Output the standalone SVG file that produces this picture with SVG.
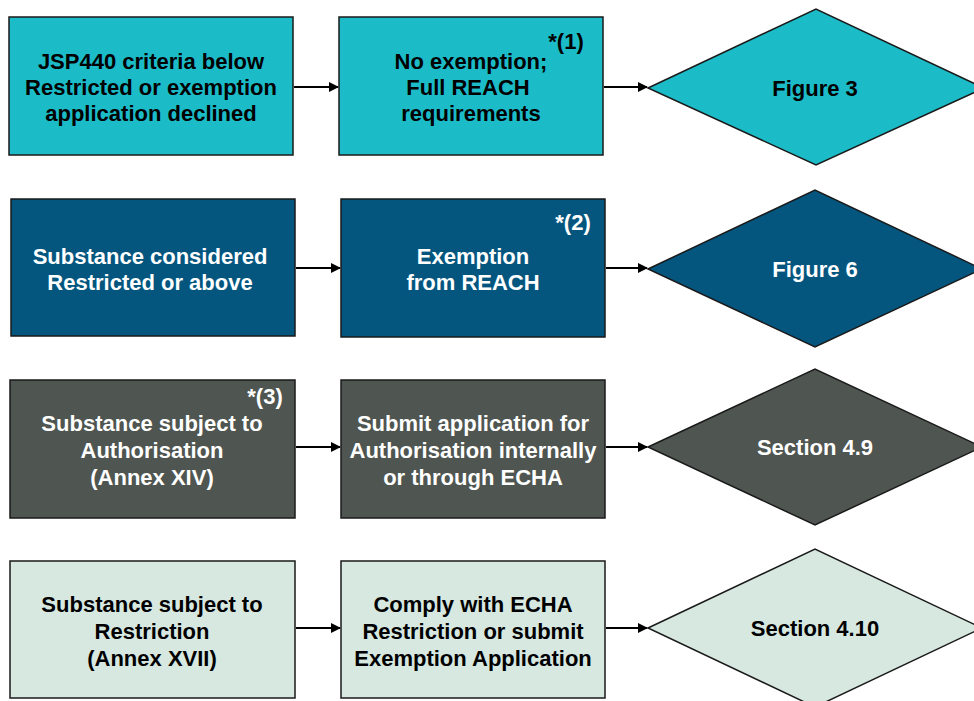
<svg xmlns="http://www.w3.org/2000/svg" width="974" height="701" viewBox="0 0 974 701">
<defs>
<marker id="ah" markerWidth="10" markerHeight="10" refX="9" refY="5" orient="auto" markerUnits="userSpaceOnUse"><path d="M0,0 L10,5 L0,10 z" fill="#000"/></marker>
<style>
.n{stroke:#1a1a1a;stroke-width:1.5}
.r1{fill:#1CBBC8}.r2{fill:#04567F}.r3{fill:#4F5550}.r4{fill:#D6E8E0}
text{font-family:"Liberation Sans",Arial,sans-serif;font-weight:bold;font-size:22px;text-anchor:middle}
.dk{fill:#000}.lt{fill:#fff}
.c{stroke:#000;stroke-width:2;fill:none;marker-end:url(#ah)}
</style>
</defs>
<rect width="974" height="701" fill="#fff"/>
<g id="connectors">
<line class="c" x1="294" y1="87" x2="338" y2="87"/>
<line class="c" x1="604" y1="87" x2="647" y2="87"/>
<line class="c" x1="296" y1="268" x2="340" y2="268"/>
<line class="c" x1="606" y1="268" x2="647" y2="268"/>
<line class="c" x1="296" y1="447" x2="340" y2="447"/>
<line class="c" x1="606" y1="447" x2="647" y2="447"/>
<line class="c" x1="296" y1="628" x2="340" y2="628"/>
<line class="c" x1="606" y1="628" x2="647" y2="628"/>
</g>
<g id="n1a"><rect class="n r1" x="9" y="17" width="284" height="138"/>
<text class="dk" x="151" y="69">JSP440 criteria below</text><text class="dk" x="151" y="95">Restricted or exemption</text><text class="dk" x="151" y="121">application declined</text></g>
<g id="n1b"><rect class="n r1" x="339" y="17" width="264" height="138"/>
<text class="dk" x="471" y="69">No exemption;</text><text class="dk" x="468" y="95">Full REACH</text><text class="dk" x="471" y="121">requirements</text>
<text class="dk" x="566" y="49">*(1)</text></g>
<g id="n1c"><polygon class="n r1" points="648,88 816,9 984,88 816,165"/>
<text class="dk" x="815" y="96">Figure 3</text></g>

<g id="n2a"><rect class="n r2" x="11" y="199" width="284" height="137"/>
<text class="lt" x="150" y="264">Substance considered</text><text class="lt" x="150" y="290">Restricted or above</text></g>
<g id="n2b"><rect class="n r2" x="341" y="199" width="264" height="138"/>
<text class="lt" x="473" y="264">Exemption</text><text class="lt" x="473" y="290">from REACH</text>
<text class="lt" x="573" y="230">*(2)</text></g>
<g id="n2d"><polygon class="n r2" points="648,269 815,190 982,269 815,347"/>
<text class="lt" x="815" y="277">Figure 6</text></g>

<g id="n3a"><rect class="n r3" x="10" y="380" width="285" height="138"/>
<text class="lt" x="152" y="431">Substance subject to</text><text class="lt" x="152" y="458">Authorisation</text><text class="lt" x="152" y="485">(Annex XIV)</text>
<text class="lt" x="265" y="404">*(3)</text></g>
<g id="n3b"><rect class="n r3" x="341" y="380" width="264" height="138"/>
<text class="lt" x="473" y="431">Submit application for</text><text class="lt" x="473" y="458">Authorisation internally</text><text class="lt" x="473" y="485">or through ECHA</text></g>
<g id="n3c"><polygon class="n r3" points="648,447 815,369 982,447 815,525"/>
<text class="lt" x="815" y="455">Section 4.9</text></g>

<g id="n4a"><rect class="n r4" x="10" y="561" width="285" height="137"/>
<text class="dk" x="152" y="612">Substance subject to</text><text class="dk" x="152" y="639">Restriction</text><text class="dk" x="152" y="666">(Annex XVII)</text></g>
<g id="n4b"><rect class="n r4" x="341" y="561" width="264" height="137"/>
<text class="dk" x="473" y="612">Comply with ECHA</text><text class="dk" x="473" y="639">Restriction or submit</text><text class="dk" x="473" y="666">Exemption Application</text></g>
<g id="n4c"><polygon class="n r4" points="648,628 815,549 982,628 815,707"/>
<text class="dk" x="815" y="636">Section 4.10</text></g>
</svg>
